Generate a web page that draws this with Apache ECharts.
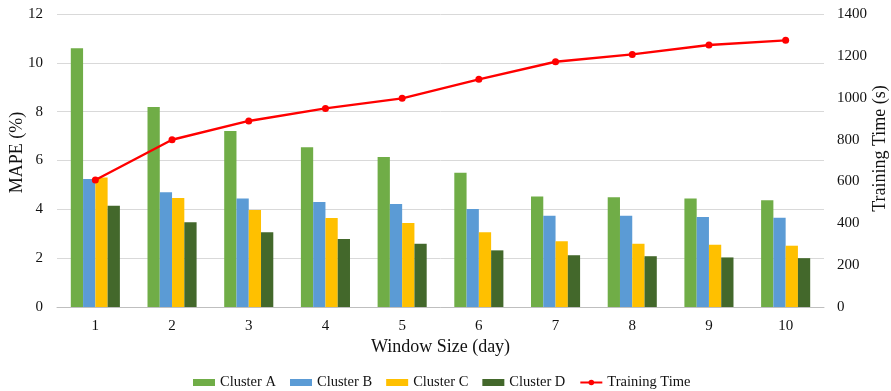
<!DOCTYPE html>
<html>
<head>
<meta charset="utf-8">
<script src="https://cdn.jsdelivr.net/npm/echarts@6/dist/echarts.min.js"></script>
<style>
  html, body { margin: 0; padding: 0; background: #fff; }
  #chart { width: 891px; height: 391px; }
</style>
</head>
<body>
<div id="chart"></div>
<script>
// Window sizes (days)
var windowSizes = ['1', '2', '3', '4', '5', '6', '7', '8', '9', '10'];

// MAPE (%) per cluster
var clusterA = [10.6, 8.19, 7.21, 6.54, 6.14, 5.5, 4.53, 4.5, 4.44, 4.37];
var clusterB = [5.24, 4.7, 4.44, 4.3, 4.22, 4.01, 3.74, 3.74, 3.69, 3.66];
var clusterC = [5.3, 4.46, 3.97, 3.64, 3.44, 3.06, 2.69, 2.59, 2.55, 2.51];
var clusterD = [4.15, 3.47, 3.06, 2.78, 2.59, 2.32, 2.12, 2.08, 2.03, 2.0];

// Training time (s)
var trainingTime = [607, 799, 889, 949, 997, 1088, 1172, 1207, 1252, 1274];

var fontFamily = '"Liberation Serif", "Times New Roman", serif';
var textColor = '#111';

var chart = echarts.init(document.getElementById('chart'), null, { renderer: 'canvas' });

function barSeries(name, data, color) {
  return {
    name: name,
    type: 'bar',
    data: data,
    yAxisIndex: 0,
    barGap: '0%',
    barCategoryGap: '36%',
    itemStyle: { color: color },
    emphasis: { disabled: true }
  };
}

chart.setOption({
  animation: false,
  textStyle: { fontFamily: fontFamily, color: textColor },
  grid: { left: 57, right: 67, top: 14, bottom: 84, outerBoundsMode: 'none', containLabel: false },
  legend: {
    top: 370,
    left: 188,
    itemWidth: 22,
    itemHeight: 7,
    itemGap: 14,
    textStyle: { fontFamily: fontFamily, fontSize: 14.5, color: textColor },
    data: [
      { name: 'Cluster A', icon: 'rect' },
      { name: 'Cluster B', icon: 'rect' },
      { name: 'Cluster C', icon: 'rect' },
      { name: 'Cluster D', icon: 'rect' },
      { name: 'Training Time' }
    ]
  },
  xAxis: {
    type: 'category',
    data: windowSizes,
    name: 'Window Size (day)',
    nameLocation: 'middle',
    nameGap: 31,
    nameMoveOverlap: false,
    nameTextStyle: { fontFamily: fontFamily, fontSize: 18, color: textColor },
    axisLine: { lineStyle: { color: '#bfbfbf', width: 1 } },
    axisTick: { show: false },
    axisLabel: { fontFamily: fontFamily, fontSize: 15, color: textColor, margin: 12 }
  },
  yAxis: [
    {
      type: 'value',
      min: 0,
      max: 12,
      interval: 2,
      name: 'MAPE (%)',
      nameLocation: 'middle',
      nameGap: 31,
      nameMoveOverlap: false,
      nameTextStyle: { fontFamily: fontFamily, fontSize: 18, color: textColor, padding: [0, 0, 0, 16] },
      axisLine: { show: false },
      axisTick: { show: false },
      axisLabel: { fontFamily: fontFamily, fontSize: 15, color: textColor, margin: 14 },
      splitLine: { lineStyle: { color: '#d9d9d9', width: 1 } }
    },
    {
      type: 'value',
      min: 0,
      max: 1400,
      interval: 200,
      name: 'Training Time (s)',
      nameLocation: 'middle',
      nameGap: 47,
      nameMoveOverlap: false,
      nameTextStyle: { fontFamily: fontFamily, fontSize: 18, color: textColor, padding: [0, 0, 0, 24] },
      axisLine: { show: false },
      axisTick: { show: false },
      axisLabel: {
        fontFamily: fontFamily, fontSize: 15, color: textColor, margin: 13,
        formatter: function (v) { return String(v); }
      },
      splitLine: { show: false }
    }
  ],
  series: [
    barSeries('Cluster A', clusterA, '#70AD47'),
    barSeries('Cluster B', clusterB, '#5B9BD5'),
    barSeries('Cluster C', clusterC, '#FFC000'),
    barSeries('Cluster D', clusterD, '#43682B'),
    {
      name: 'Training Time',
      type: 'line',
      yAxisIndex: 1,
      data: trainingTime,
      symbol: 'circle',
      symbolSize: 7,
      lineStyle: { color: '#FF0000', width: 2.4 },
      itemStyle: { color: '#FF0000' },
      emphasis: { disabled: true },
      z: 5
    }
  ]
});
</script>
</body>
</html>
